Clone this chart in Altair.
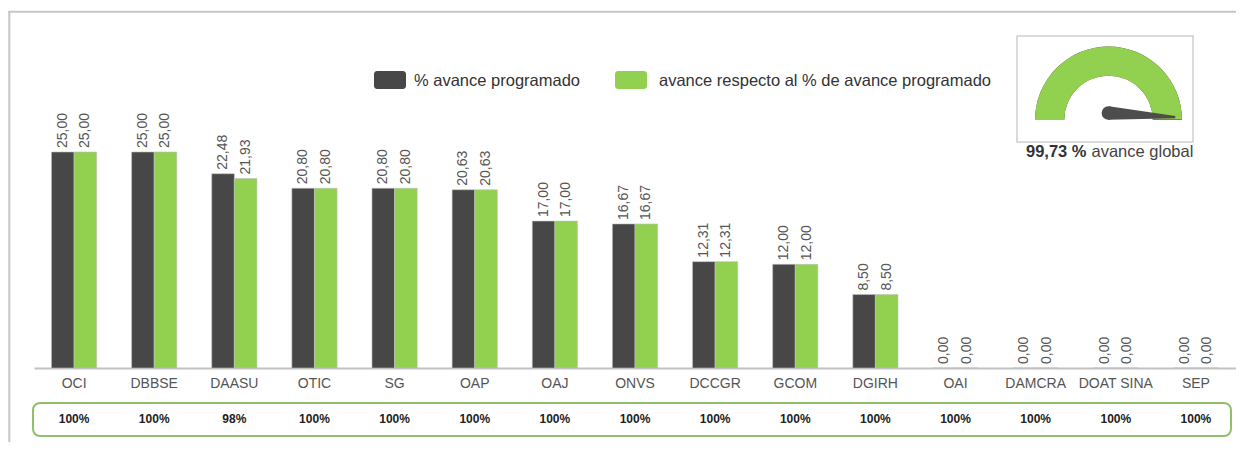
import altair as alt
import pandas as pd

# ---------------- data ----------------
categories = ["OCI", "DBBSE", "DAASU", "OTIC", "SG", "OAP", "OAJ", "ONVS",
              "DCCGR", "GCOM", "DGIRH", "OAI", "DAMCRA", "DOAT SINA", "SEP"]
avance_programado = [25.00, 25.00, 22.48, 20.80, 20.80, 20.63, 17.00, 16.67,
                     12.31, 12.00, 8.50, 0.00, 0.00, 0.00, 0.00]
avance_real = [25.00, 25.00, 21.93, 20.80, 20.80, 20.63, 17.00, 16.67,
               12.31, 12.00, 8.50, 0.00, 0.00, 0.00, 0.00]
cumplimiento = [100, 100, 98, 100, 100, 100, 100, 100, 100, 100, 100, 100, 100, 100, 100]
series = ["% avance programado", "avance respecto al % de avance programado"]
avance_global = 99.73

FONT = "Liberation Sans"
DARK = "#474747"
GREEN = "#92D050"

def fmt(v):
    return f"{v:.2f}".replace(".", ",")

rows = []
for c, a, b in zip(categories, avance_programado, avance_real):
    rows.append({"cat": c, "serie": series[0], "value": a, "label": fmt(a)})
    rows.append({"cat": c, "serie": series[1], "value": b, "label": fmt(b)})
bars_df = pd.DataFrame(rows)

pct_df = pd.DataFrame({"cat": categories, "pct": [f"{p}%" for p in cumplimiento]})

gauge_df = pd.DataFrame({
    "start": [0, 0],
    "end": [100, avance_global],
    "part": ["fondo", "valor"],
})
needle_df = pd.DataFrame({"v": [avance_global]})
gauge_txt_df = pd.DataFrame({"bold": [fmt(avance_global) + " %"], "rest": ["avance global"]})
leg0 = pd.DataFrame({"serie": [series[0]]})
leg1 = pd.DataFrame({"serie": [series[1]]})
one = pd.DataFrame({"k": [0]})

color_scale = alt.Scale(domain=series, range=[DARK, GREEN])
x_enc = alt.X("cat:N", sort=categories,
              scale=alt.Scale(paddingInner=0.436, paddingOuter=0.218),
              axis=alt.Axis(title=None, labelAngle=0, labelFontSize=14, labelColor="#555555",
                            labelFont=FONT, ticks=False, domainColor="#c4c4c4",
                            domainWidth=2, labelPadding=8, grid=False))
xoff = alt.XOffset("serie:N", sort=series, scale=alt.Scale(paddingInner=0, paddingOuter=0))
y_enc = alt.Y("value:Q", scale=alt.Scale(domain=[0, 34.72], nice=False, zero=True), axis=None)

# ---------------- frame ----------------
frame_left = alt.Chart(one).mark_rule(color="#c6c6c6", strokeWidth=2).encode(
    x=alt.value(-24.7), y=alt.value(-57), y2=alt.value(380))
frame_top = alt.Chart(one).mark_rule(color="#c6c6c6", strokeWidth=2).encode(
    x=alt.value(-25.7), x2=alt.value(1210), y=alt.value(-56.2))

# ---------------- bars ----------------
bars = alt.Chart(bars_df).mark_bar(stroke="#c0c0c0", strokeWidth=0.6).encode(
    x=x_enc, xOffset=xoff, y=y_enc,
    color=alt.Color("serie:N", scale=color_scale, legend=None))

labels = alt.Chart(bars_df).mark_text(angle=270, align="left", baseline="middle", dx=4,
                                       fontSize=14, font=FONT, color="#555555").encode(
    x=alt.X("cat:N", sort=categories), xOffset=xoff, y=y_enc, text="label:N")

# ---------------- percentage row ----------------
pct_box = alt.Chart(one).mark_rect(fill="white", fillOpacity=0, stroke="#8fbf6c",
                                   strokeWidth=2, cornerRadius=7).encode(
    x=alt.value(-1), x2=alt.value(1197), y=alt.value(335), y2=alt.value(368))
pct_text = alt.Chart(pct_df).mark_text(fontSize=12, fontWeight="bold", font=FONT,
                                       color="#222222", baseline="middle").encode(
    x=alt.X("cat:N", sort=categories), y=alt.value(351), text="pct:N")

# ---------------- legend ----------------
def legend_item(df, x0, x1, xt):
    r = alt.Chart(df).mark_rect(cornerRadius=3).encode(
        x=alt.value(x0), x2=alt.value(x1), y=alt.value(3), y2=alt.value(21),
        color=alt.Color("serie:N", scale=color_scale, legend=None))
    t = alt.Chart(df).mark_text(align="left", baseline="middle", fontSize=16.5, font=FONT,
                                color="#333333").encode(
        x=alt.value(xt), y=alt.value(12.5), text="serie:N")
    return [r, t]

legend_layers = legend_item(leg0, 340, 372, 380) + legend_item(leg1, 581, 613, 625)

# ---------------- gauge ----------------
g_box = alt.Chart(one).mark_rect(fill="white", stroke="#cfcfcf", strokeWidth=1.5).encode(
    x=alt.value(983), x2=alt.value(1159), y=alt.value(-32), y2=alt.value(74))
g_arc = alt.Chart(gauge_df).mark_arc().encode(
    x=alt.value(1074.5), y=alt.value(52),
    theta=alt.Theta("start:Q", scale=alt.Scale(domain=[0, 100], range=[4.712389, 7.853982]), stack=None),
    theta2="end:Q",
    radius=alt.value(73.5), radius2=alt.value(44.3),
    color=alt.Color("part:N", scale=alt.Scale(domain=["fondo", "valor"], range=["#e6e6e6", "#8CC21E"]),
                    legend=None),
    order=alt.Order("part:N"))
NEEDLE = "M 0 -0.1 L 1 -0.016 L 1 0.016 L 0 0.1 Z"
g_needle = alt.Chart(needle_df).mark_point(shape=NEEDLE, filled=True, size=17956,
                                           color="#4d4d4d", opacity=1, strokeWidth=0).encode(
    x=alt.value(1074.4), y=alt.value(45),
    angle=alt.Angle("v:Q", scale=alt.Scale(domain=[0, 100], range=[180, 364])))
g_hub = alt.Chart(needle_df).mark_point(shape="circle", filled=True, size=185,
                                        color="#4d4d4d", opacity=1, strokeWidth=0).encode(
    x=alt.value(1074.4), y=alt.value(45))
g_t1 = alt.Chart(gauge_txt_df).mark_text(align="left", baseline="alphabetic", fontSize=16.5,
                                         fontWeight="bold", font=FONT, color="#333333").encode(
    x=alt.value(992), y=alt.value(89), text="bold:N")
g_t2 = alt.Chart(gauge_txt_df).mark_text(align="left", baseline="alphabetic", fontSize=16.5,
                                         font=FONT, color="#444444").encode(
    x=alt.value(1057.5), y=alt.value(89), text="rest:N")

chart = alt.layer(
    frame_left, frame_top, bars, labels, pct_box, pct_text,
    *legend_layers, g_box, g_arc, g_needle, g_hub, g_t1, g_t2
).properties(
    width=1202, height=300,
    autosize=alt.AutoSizeParams(type="none"),
    padding={"left": 26, "top": 60, "right": 0, "bottom": 74},
).configure_view(stroke=None).configure_axis(grid=False)

chart.save("out.html", embed_options={"renderer": "svg", "actions": False})
